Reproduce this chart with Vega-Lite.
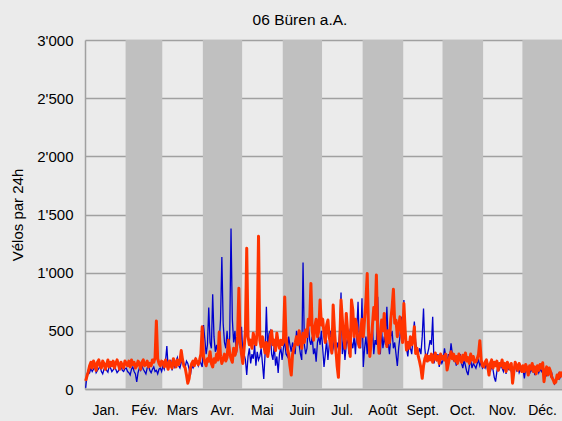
{
"$schema": "https://vega.github.io/schema/vega-lite/v6.json",
"width": 478, "height": 349,
"autosize": {"type": "none"},
"padding": {"left": 85, "top": 40, "right": 0, "bottom": 32},
"background": "#ebebeb",
"title": {"text": "06 Büren a.A.", "anchor": "middle", "dx": -24, "offset": 5, "fontSize": 15.5, "fontWeight": "normal", "font": "Liberation Sans", "color": "#000000"},
"config": {"view": {"fill": "#ebebeb", "stroke": null}, "font": "Liberation Sans"},
"datasets": {
"months": [
{"n":1,"s":0.5,"e":31.5},{"n":2,"s":31.5,"e":59.5},{"n":3,"s":59.5,"e":90.5},{"n":4,"s":90.5,"e":120.5},{"n":5,"s":120.5,"e":151.5},{"n":6,"s":151.5,"e":181.5},{"n":7,"s":181.5,"e":212.5},{"n":8,"s":212.5,"e":243.5},{"n":9,"s":243.5,"e":273.5},{"n":10,"s":273.5,"e":304.5},{"n":11,"s":304.5,"e":334.5},{"n":12,"s":334.5,"e":365.5}],
"days": [
{"d":1,"b":10,"o":70},{"d":2,"b":120,"o":110},{"d":3,"b":160,"o":150},{"d":4,"b":140,"o":200},{"d":5,"b":180,"o":230},{"d":6,"b":150,"o":180},{"d":7,"b":170,"o":240},{"d":8,"b":190,"o":210},{"d":9,"b":140,"o":160},{"d":10,"b":160,"o":230},
{"d":11,"b":175,"o":250},{"d":12,"b":200,"o":200},{"d":13,"b":150,"o":180},{"d":14,"b":130,"o":240},{"d":15,"b":170,"o":220},{"d":16,"b":185,"o":170},{"d":17,"b":160,"o":210},{"d":18,"b":145,"o":250},{"d":19,"b":200,"o":190},{"d":20,"b":180,"o":230},
{"d":21,"b":150,"o":200},{"d":22,"b":165,"o":240},{"d":23,"b":190,"o":180},{"d":24,"b":170,"o":220},{"d":25,"b":140,"o":250},{"d":26,"b":155,"o":210},{"d":27,"b":180,"o":170},{"d":28,"b":200,"o":230},{"d":29,"b":160,"o":200},{"d":30,"b":150,"o":180},{"d":31,"b":175,"o":240},
{"d":32,"b":180,"o":220},{"d":33,"b":150,"o":200},{"d":34,"b":140,"o":240},{"d":35,"b":120,"o":190},{"d":36,"b":170,"o":250},{"d":37,"b":190,"o":210},{"d":38,"b":150,"o":230},{"d":39,"b":130,"o":180},{"d":40,"b":60,"o":200},
{"d":41,"b":140,"o":240},{"d":42,"b":180,"o":220},{"d":43,"b":160,"o":170},{"d":44,"b":200,"o":230},{"d":45,"b":170,"o":250},{"d":46,"b":150,"o":200},{"d":47,"b":130,"o":210},{"d":48,"b":180,"o":240},{"d":49,"b":200,"o":190},{"d":50,"b":160,"o":220},
{"d":51,"b":140,"o":200},{"d":52,"b":170,"o":250},{"d":53,"b":190,"o":230},{"d":54,"b":150,"o":270},{"d":55,"b":160,"o":585},{"d":56,"b":130,"o":260},{"d":57,"b":170,"o":220},{"d":58,"b":180,"o":200},{"d":59,"b":150,"o":240},
{"d":60,"b":200,"o":230},{"d":61,"b":170,"o":190},{"d":62,"b":240,"o":250},{"d":63,"b":370,"o":210},{"d":64,"b":180,"o":170},{"d":65,"b":210,"o":240},{"d":66,"b":250,"o":200},{"d":67,"b":160,"o":180},{"d":68,"b":220,"o":260},{"d":69,"b":190,"o":220},
{"d":70,"b":240,"o":190},{"d":71,"b":270,"o":250},{"d":72,"b":200,"o":210},{"d":73,"b":180,"o":240},{"d":74,"b":230,"o":330},{"d":75,"b":260,"o":250},{"d":76,"b":210,"o":200},{"d":77,"b":190,"o":180},{"d":78,"b":240,"o":120},{"d":79,"b":220,"o":50},
{"d":80,"b":170,"o":90},{"d":81,"b":120,"o":180},{"d":82,"b":200,"o":220},{"d":83,"b":180,"o":240},{"d":84,"b":210,"o":200},{"d":85,"b":260,"o":260},{"d":86,"b":230,"o":230},{"d":87,"b":200,"o":210},{"d":88,"b":250,"o":250},{"d":89,"b":220,"o":300},{"d":90,"b":190,"o":535},
{"d":91,"b":550,"o":280},{"d":92,"b":430,"o":230},{"d":93,"b":300,"o":200},{"d":94,"b":380,"o":260},{"d":95,"b":700,"o":240},{"d":96,"b":400,"o":320},{"d":97,"b":350,"o":220},{"d":98,"b":815,"o":190},{"d":99,"b":450,"o":260},{"d":100,"b":320,"o":230},
{"d":101,"b":380,"o":300},{"d":102,"b":300,"o":250},{"d":103,"b":400,"o":490},{"d":104,"b":600,"o":280},{"d":105,"b":1135,"o":220},{"d":106,"b":565,"o":260},{"d":107,"b":400,"o":300},{"d":108,"b":350,"o":240},{"d":109,"b":500,"o":270},{"d":110,"b":300,"o":420},
{"d":111,"b":450,"o":310},{"d":112,"b":1380,"o":260},{"d":113,"b":600,"o":230},{"d":114,"b":400,"o":350},{"d":115,"b":500,"o":290},{"d":116,"b":300,"o":330},{"d":117,"b":380,"o":450},{"d":118,"b":450,"o":865},{"d":119,"b":350,"o":400},{"d":120,"b":535,"o":300},
{"d":121,"b":300,"o":220},{"d":122,"b":300,"o":350},{"d":123,"b":250,"o":500},{"d":124,"b":120,"o":1210},{"d":125,"b":280,"o":450},{"d":126,"b":350,"o":380},{"d":127,"b":220,"o":420},{"d":128,"b":300,"o":350},{"d":129,"b":260,"o":480},{"d":130,"b":380,"o":400},
{"d":131,"b":200,"o":380},{"d":132,"b":320,"o":500},{"d":133,"b":250,"o":1313},{"d":134,"b":280,"o":420},{"d":135,"b":350,"o":360},{"d":136,"b":220,"o":450},{"d":137,"b":86,"o":380},{"d":138,"b":300,"o":310},{"d":139,"b":706,"o":400},{"d":140,"b":350,"o":280},
{"d":141,"b":480,"o":350},{"d":142,"b":500,"o":450},{"d":143,"b":300,"o":500},{"d":144,"b":250,"o":380},{"d":145,"b":380,"o":420},{"d":146,"b":200,"o":330},{"d":147,"b":280,"o":480},{"d":148,"b":137,"o":400},{"d":149,"b":300,"o":350},{"d":150,"b":360,"o":420},{"d":151,"b":250,"o":380},
{"d":152,"b":350,"o":400},{"d":153,"b":420,"o":790},{"d":154,"b":300,"o":450},{"d":155,"b":280,"o":350},{"d":156,"b":450,"o":300},{"d":157,"b":380,"o":200},{"d":158,"b":320,"o":120},{"d":159,"b":400,"o":300},{"d":160,"b":350,"o":350},
{"d":161,"b":300,"o":395},{"d":162,"b":500,"o":450},{"d":163,"b":450,"o":380},{"d":164,"b":380,"o":500},{"d":165,"b":300,"o":420},{"d":166,"b":250,"o":350},{"d":167,"b":1087,"o":480},{"d":168,"b":380,"o":400},{"d":169,"b":300,"o":507},{"d":170,"b":350,"o":450},
{"d":171,"b":565,"o":600},{"d":172,"b":420,"o":550},{"d":173,"b":380,"o":907},{"d":174,"b":450,"o":500},{"d":175,"b":300,"o":420},{"d":176,"b":350,"o":535},{"d":177,"b":235,"o":600},{"d":178,"b":400,"o":450},{"d":179,"b":450,"o":500},{"d":180,"b":380,"o":765},{"d":181,"b":500,"o":550},
{"d":182,"b":350,"o":600},{"d":183,"b":190,"o":480},{"d":184,"b":300,"o":400},{"d":185,"b":420,"o":550},{"d":186,"b":250,"o":593},{"d":187,"b":380,"o":450},{"d":188,"b":500,"o":380},{"d":189,"b":300,"o":310},{"d":190,"b":350,"o":722},
{"d":191,"b":450,"o":500},{"d":192,"b":280,"o":350},{"d":193,"b":400,"o":200},{"d":194,"b":350,"o":100},{"d":195,"b":500,"o":400},{"d":196,"b":830,"o":765},{"d":197,"b":300,"o":600},{"d":198,"b":420,"o":450},{"d":199,"b":250,"o":350},{"d":200,"b":380,"o":650},
{"d":201,"b":450,"o":500},{"d":202,"b":300,"o":400},{"d":203,"b":520,"o":280},{"d":204,"b":400,"o":764},{"d":205,"b":350,"o":680},{"d":206,"b":450,"o":450},{"d":207,"b":300,"o":600},{"d":208,"b":500,"o":535},{"d":209,"b":750,"o":400},{"d":210,"b":400,"o":360},
{"d":211,"b":350,"o":500},{"d":212,"b":780,"o":600},
{"d":213,"b":190,"o":450},{"d":214,"b":350,"o":600},{"d":215,"b":450,"o":750},{"d":216,"b":300,"o":993},{"d":217,"b":500,"o":500},{"d":218,"b":400,"o":280},{"d":219,"b":350,"o":400},{"d":220,"b":550,"o":550},
{"d":221,"b":300,"o":700},{"d":222,"b":420,"o":600},{"d":223,"b":380,"o":980},{"d":224,"b":793,"o":500},{"d":225,"b":400,"o":307},{"d":226,"b":300,"o":450},{"d":227,"b":500,"o":593},{"d":228,"b":350,"o":500},{"d":229,"b":450,"o":650},{"d":230,"b":380,"o":450},
{"d":231,"b":707,"o":365},{"d":232,"b":400,"o":500},{"d":233,"b":300,"o":400},{"d":234,"b":450,"o":600},{"d":235,"b":500,"o":700},{"d":236,"b":350,"o":857},{"d":237,"b":400,"o":566},{"d":238,"b":300,"o":593},{"d":239,"b":198,"o":450},{"d":240,"b":350,"o":535},
{"d":241,"b":450,"o":620},{"d":242,"b":620,"o":500},{"d":243,"b":400,"o":400},
{"d":244,"b":765,"o":735},{"d":245,"b":450,"o":500},{"d":246,"b":350,"o":335},{"d":247,"b":280,"o":400},{"d":248,"b":400,"o":350},{"d":249,"b":350,"o":450},{"d":250,"b":300,"o":380},
{"d":251,"b":450,"o":420},{"d":252,"b":580,"o":535},{"d":253,"b":400,"o":306},{"d":254,"b":330,"o":350},{"d":255,"b":306,"o":280},{"d":256,"b":350,"o":235},{"d":257,"b":300,"o":180},{"d":258,"b":450,"o":92},{"d":259,"b":692,"o":200},{"d":260,"b":350,"o":260},
{"d":261,"b":235,"o":292},{"d":262,"b":300,"o":240},{"d":263,"b":350,"o":280},{"d":264,"b":420,"o":250},{"d":265,"b":380,"o":300},{"d":266,"b":620,"o":230},{"d":267,"b":220,"o":270},{"d":268,"b":280,"o":310},{"d":269,"b":250,"o":250},{"d":270,"b":300,"o":280},
{"d":271,"b":190,"o":220},{"d":272,"b":250,"o":300},{"d":273,"b":220,"o":260},
{"d":274,"b":250,"o":280},{"d":275,"b":350,"o":250},{"d":276,"b":280,"o":300},{"d":277,"b":220,"o":163},{"d":278,"b":300,"o":220},{"d":279,"b":260,"o":280},{"d":280,"b":392,"o":320},
{"d":281,"b":300,"o":260},{"d":282,"b":250,"o":300},{"d":283,"b":280,"o":240},{"d":284,"b":200,"o":280},{"d":285,"b":260,"o":220},{"d":286,"b":250,"o":300},{"d":287,"b":300,"o":260},{"d":288,"b":220,"o":230},{"d":289,"b":180,"o":290},{"d":290,"b":250,"o":250},
{"d":291,"b":200,"o":310},{"d":292,"b":150,"o":240},{"d":293,"b":120,"o":270},{"d":294,"b":200,"o":220},{"d":295,"b":250,"o":300},{"d":296,"b":180,"o":250},{"d":297,"b":220,"o":280},{"d":298,"b":200,"o":230},{"d":299,"b":178,"o":235},{"d":300,"b":220,"o":260},
{"d":301,"b":250,"o":300},{"d":302,"b":200,"o":415},{"d":303,"b":230,"o":250},{"d":304,"b":180,"o":200},
{"d":305,"b":200,"o":190},{"d":306,"b":180,"o":230},{"d":307,"b":220,"o":250},{"d":308,"b":160,"o":200},{"d":309,"b":200,"o":120},{"d":310,"b":150,"o":220},
{"d":311,"b":190,"o":250},{"d":312,"b":170,"o":180},{"d":313,"b":100,"o":230},{"d":314,"b":63,"o":200},{"d":315,"b":150,"o":240},{"d":316,"b":200,"o":160},{"d":317,"b":170,"o":220},{"d":318,"b":210,"o":200},{"d":319,"b":180,"o":250},{"d":320,"b":150,"o":180},
{"d":321,"b":200,"o":220},{"d":322,"b":130,"o":150},{"d":323,"b":190,"o":230},{"d":324,"b":170,"o":200},{"d":325,"b":200,"o":170},{"d":326,"b":150,"o":220},{"d":327,"b":120,"o":50},{"d":328,"b":180,"o":150},{"d":329,"b":200,"o":230},{"d":330,"b":160,"o":200},
{"d":331,"b":190,"o":160},{"d":332,"b":140,"o":220},{"d":333,"b":170,"o":190},{"d":334,"b":150,"o":150},
{"d":335,"b":170,"o":200},{"d":336,"b":92,"o":150},{"d":337,"b":180,"o":210},{"d":338,"b":150,"o":180},{"d":339,"b":190,"o":120},{"d":340,"b":130,"o":200},
{"d":341,"b":170,"o":170},{"d":342,"b":150,"o":220},{"d":343,"b":180,"o":150},{"d":344,"b":120,"o":190},{"d":345,"b":160,"o":130},{"d":346,"b":190,"o":200},{"d":347,"b":140,"o":160},{"d":348,"b":170,"o":210},{"d":349,"b":150,"o":180},{"d":350,"b":180,"o":225},
{"d":351,"b":130,"o":63},{"d":352,"b":160,"o":150},{"d":353,"b":120,"o":190},{"d":354,"b":150,"o":120},{"d":355,"b":170,"o":180},{"d":356,"b":110,"o":150},{"d":357,"b":130,"o":100},{"d":358,"b":80,"o":80},{"d":359,"b":43,"o":50},{"d":360,"b":60,"o":60},
{"d":361,"b":100,"o":120},{"d":362,"b":130,"o":90},{"d":363,"b":90,"o":140},{"d":364,"b":120,"o":110},{"d":365,"b":140,"o":150}
]
},
"layer": [
{
"data": {"name": "months"},
"transform": [{"filter": "datum.n % 2 == 0"}],
"mark": {"type": "rect", "color": "#c0c0c0"},
"encoding": {
"x": {"field": "s", "type": "quantitative", "scale": {"domain": [0.5, 365.5], "nice": false, "zero": false},
"axis": {"values": [16, 45.5, 74.5, 105, 135.5, 166, 196.5, 227.5, 258, 288.5, 319, 349.5],
"labelExpr": "['Jan.','Fév.','Mars','Avr.','Mai','Juin','Jul.','Août','Sept.','Oct.','Nov.','Déc.'][indexof([16,45.5,74.5,105,135.5,166,196.5,227.5,258,288.5,319,349.5], datum.value)]",
"title": null, "ticks": false, "grid": false, "labelPadding": 14, "labelFontSize": 14, "labelColor": "#000000", "labelFont": "Liberation Sans", "labelFlush": false, "labelOverlap": false, "domainColor": "#a0a0a0", "domainWidth": 1.5}},
"x2": {"field": "e"}
}
},
{
"data": {"name": "days"},
"mark": {"type": "line", "color": "#0000cc", "strokeWidth": 1.3},
"encoding": {
"x": {"field": "d", "type": "quantitative"},
"y": {"field": "b", "type": "quantitative", "scale": {"domain": [0, 3000], "nice": false},
"axis": {"values": [0,250,500,750,1000,1250,1500,1750,2000,2250,2500,2750,3000],
"labelExpr": "datum.value % 500 == 0 ? replace(format(datum.value, ','), ',', \"'\") : ''",
"title": "Vélos par 24h", "titleFontSize": 15, "titleFontWeight": "normal", "titleColor": "#000000", "titleFont": "Liberation Sans", "titlePadding": 11,
"ticks": false, "grid": true, "gridColor": "#a0a0a0", "gridWidth": 1.3, "labelPadding": 12, "labelFontSize": 15, "labelColor": "#000000", "labelFont": "Liberation Sans", "domainColor": "#a0a0a0", "domainWidth": 1.5}}
}
},
{
"data": {"name": "days"},
"mark": {"type": "line", "color": "#ff3300", "strokeWidth": 3, "strokeJoin": "round"},
"encoding": {
"x": {"field": "d", "type": "quantitative"},
"y": {"field": "o", "type": "quantitative"}
}
}
]
}
